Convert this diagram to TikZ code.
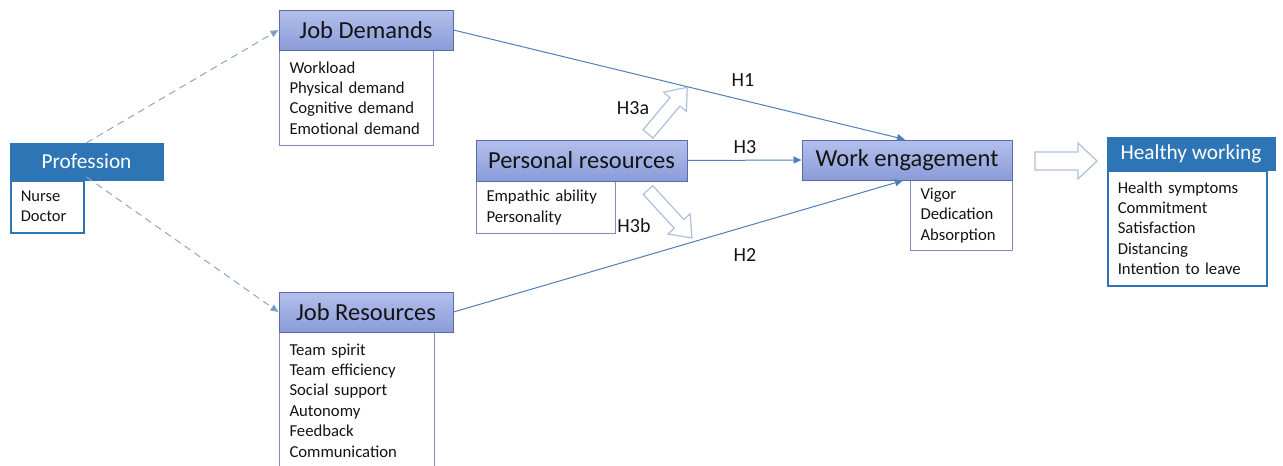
\documentclass[tikz,border=0pt]{standalone}
\usepackage{fontspec}
\setmainfont{Carlito}
\usetikzlibrary{arrows.meta}
\definecolor{pblue}{HTML}{2E75B6}
\definecolor{lavtop}{HTML}{B4C0EC}
\definecolor{lavbot}{HTML}{8A9BD8}
\definecolor{lavdraw}{HTML}{5A6CA8}
\definecolor{lstdraw}{HTML}{7D8DB8}
\definecolor{conn}{HTML}{4F7FB8}
\definecolor{dashc}{HTML}{8AA6CC}
\definecolor{hollow}{HTML}{AFC0DA}
\definecolor{txt}{HTML}{141414}
\tikzset{
  hdr/.style={draw=lavdraw, line width=1pt, top color=lavtop, bottom color=lavbot,
    text=txt, font=\fontsize{24.5}{27}\selectfont, inner sep=0pt},
  bhdr/.style={draw=pblue, fill=pblue, text=white, font=\fontsize{21.3}{24}\selectfont, inner sep=0pt},
  lst/.style={draw=lstdraw, line width=1pt, fill=white, text=txt, align=left, inner xsep=10pt, inner ysep=0pt,
    anchor=north west, font=\fontsize{16.7}{20.4}\selectfont},
  blst/.style={lst, draw=pblue, line width=1.5pt},
  conline/.style={draw=conn, line width=1pt, -{Triangle[length=8pt,width=7pt]}},
  dashline/.style={draw=dashc, line width=1pt, dash pattern=on 7pt off 5pt, -{Triangle[length=8pt,width=7pt,fill=conn!80!white]}},
  hlab/.style={text=txt, font=\fontsize{20}{24}\selectfont},
  harrow/.style={draw=hollow, line width=1.2pt, fill=white, line join=miter}
}
\begin{document}
\begin{tikzpicture}[x=1pt,y=-1pt]
\useasboundingbox (0,0) rectangle (1283,466);

% Profession
\node[bhdr, minimum width=153pt, minimum height=37pt] (prof) at (86.5,161.5) {Profession};
\node[blst, text width=53pt, minimum height=52pt, font=\fontsize{16.5}{20}\selectfont] (profL) at (10,180) {Nurse\\Doctor};

% Job Demands
\node[lst, text width=134pt, minimum height=95pt] (jdL) at (279,50) {Workload\\Physical demand\\Cognitive demand\\Emotional demand};
\node[hdr, minimum width=174pt, minimum height=40pt] (jd) at (366,30) {Job Demands};

% Job Resources
\node[lst, text width=135pt, minimum height=136pt] (jrL) at (279,332) {Team spirit\\Team efficiency\\Social support\\Autonomy\\Feedback\\Communication};
\node[hdr, minimum width=174pt, minimum height=40pt] (jr) at (366,312) {Job Resources};

% Personal resources
\node[lst, text width=119pt, minimum height=52pt] (prL) at (476,181) {Empathic ability\\Personality};
\node[hdr, minimum width=211pt, minimum height=41pt] (pr) at (581.5,160.5) {Personal resources};

% Work engagement
\node[lst, text width=82pt, minimum height=70pt] (weL) at (910,180) {Vigor\\Dedication\\Absorption};
\node[hdr, minimum width=210pt, minimum height=40pt] (we) at (907,160) {Work engagement};

% Healthy working
\node[blst, text width=139pt, minimum height=115pt] (hwL) at (1107,170) {Health symptoms\\Commitment\\Satisfaction\\Distancing\\Intention to leave};
\node[bhdr, minimum width=168pt, minimum height=33pt] (hw) at (1191,153.5) {Healthy working};

% dashed connectors
\draw[dashline] (prof.north) -- (jd.west);
\draw[dashline] ([xshift=2pt,yshift=3pt]profL.north east) -- (jr.west);

% solid connectors
\draw[conline] (jd.east) -- ([xshift=-2pt]we.north);
\draw[conline] (pr.east) -- (we.west);
\draw[conline] (jr.east) -- ([xshift=-4pt]we.south);

% labels
\node[hlab] (h1) at (743,80) {H1};
\node[hlab] (h3) at (745,147) {H3};
\node[hlab] (h2) at (745,255) {H2};
\node[hlab] (h3a) at (633,108) {H3a};
\node[hlab] (h3b) at (634,226) {H3b};

% hollow block arrows
\draw[harrow, shift={(648,134)}, rotate=50]
  (0,-6.5) -- (42,-6.5) -- (42,-15) -- (61,0) -- (42,15) -- (42,6.5) -- (0,6.5) -- cycle;
\draw[harrow, shift={(648,190)}, rotate=-47.5]
  (0,-6.5) -- (46,-6.5) -- (46,-15) -- (65,0) -- (46,15) -- (46,6.5) -- (0,6.5) -- cycle;
\draw[harrow, shift={(1035,161)}]
  (0,-9) -- (43,-9) -- (43,-18) -- (62,0) -- (43,18) -- (43,9) -- (0,9) -- cycle;
\end{tikzpicture}
\end{document}
